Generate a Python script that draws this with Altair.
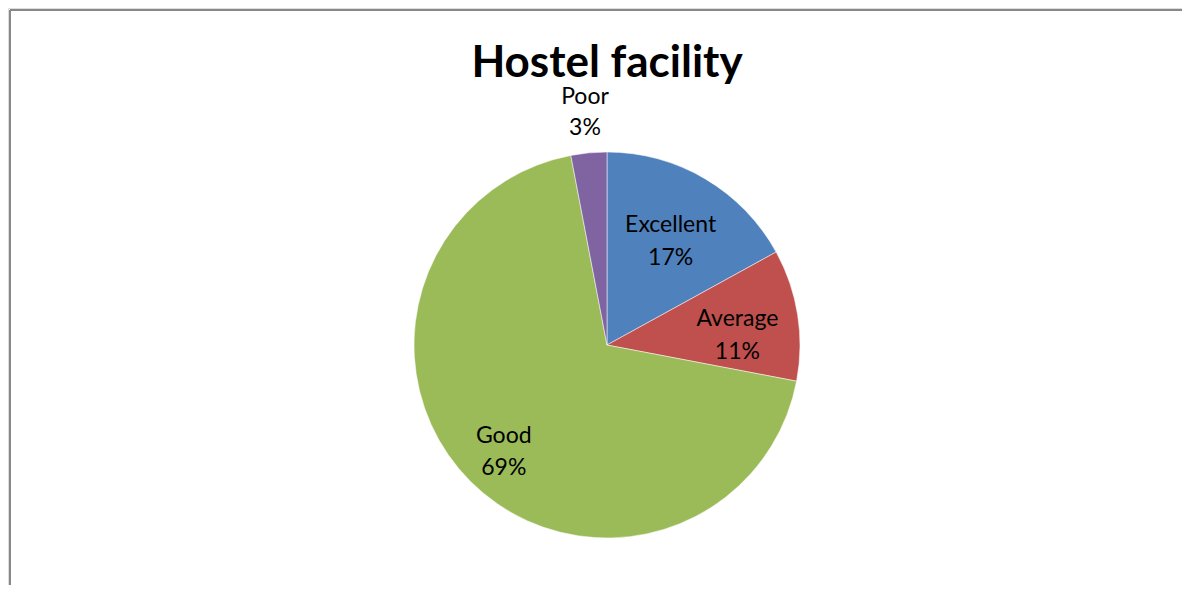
import altair as alt
import pandas as pd

categories = ["Excellent", "Average", "Good", "Poor"]
percents = [17, 11, 69, 3]
colors = ["#4F81BD", "#C0504D", "#9BBB59", "#8064A2"]

df = pd.DataFrame({"cat": categories, "pct": percents, "order": list(range(len(categories)))})
df["label"] = df["cat"] + "\n" + df["pct"].astype(str) + "%"

W, H = 1174, 577
CX, CY = 599, 337
R = 193
FONT = "Lato"

base = alt.Chart(df)

pie = base.mark_arc(stroke="#ffffff", strokeWidth=0.5).encode(
    theta=alt.Theta("pct:Q", stack=True),
    order=alt.Order("order:Q"),
    color=alt.Color("cat:N", scale=alt.Scale(domain=categories, range=colors), legend=None),
    x=alt.value(CX), y=alt.value(CY),
    radius=alt.value(R),
)

def lab(cat, r, dy=0, lh=33):
    return base.mark_text(font=FONT, fontSize=23, lineBreak="\n", lineHeight=lh,
                          baseline="middle", align="center", color="#000000", dy=dy).encode(
        theta=alt.Theta("pct:Q", stack=True),
        order=alt.Order("order:Q"),
        text="label:N",
        x=alt.value(CX), y=alt.value(CY),
        radius=alt.value(r),
        opacity=alt.condition(alt.datum.cat == cat, alt.value(1), alt.value(0)),
    )

labels = [lab("Excellent", 125, -12), lab("Average", 132, -5), lab("Good", 146, -12, 32),
          lab("Poor", 234, -15, 31)]

title = alt.Chart(pd.DataFrame({"t": ["Hostel facility"]})).mark_text(
    font=FONT, fontSize=44, fontWeight="bold", align="center", baseline="alphabetic", color="#000000"
).encode(text="t:N", x=alt.value(CX), y=alt.value(69))

frame_df = pd.DataFrame({"k": [0]})
top_rule = alt.Chart(frame_df).mark_rule(color="#888888", strokeWidth=2).encode(
    x=alt.value(2), x2=alt.value(W + 10), y=alt.value(2))
left_rule = alt.Chart(frame_df).mark_rule(color="#888888", strokeWidth=2).encode(
    x=alt.value(2), y=alt.value(2), y2=alt.value(H + 10))

chart = alt.layer(pie, *labels, title, top_rule, left_rule).properties(
    width=W, height=H, autosize=alt.AutoSizeParams(type="none"), padding=0
).configure_view(stroke=None).configure(background="#ffffff")

chart.save("out.html", embed_options={"renderer": "svg", "actions": False})
